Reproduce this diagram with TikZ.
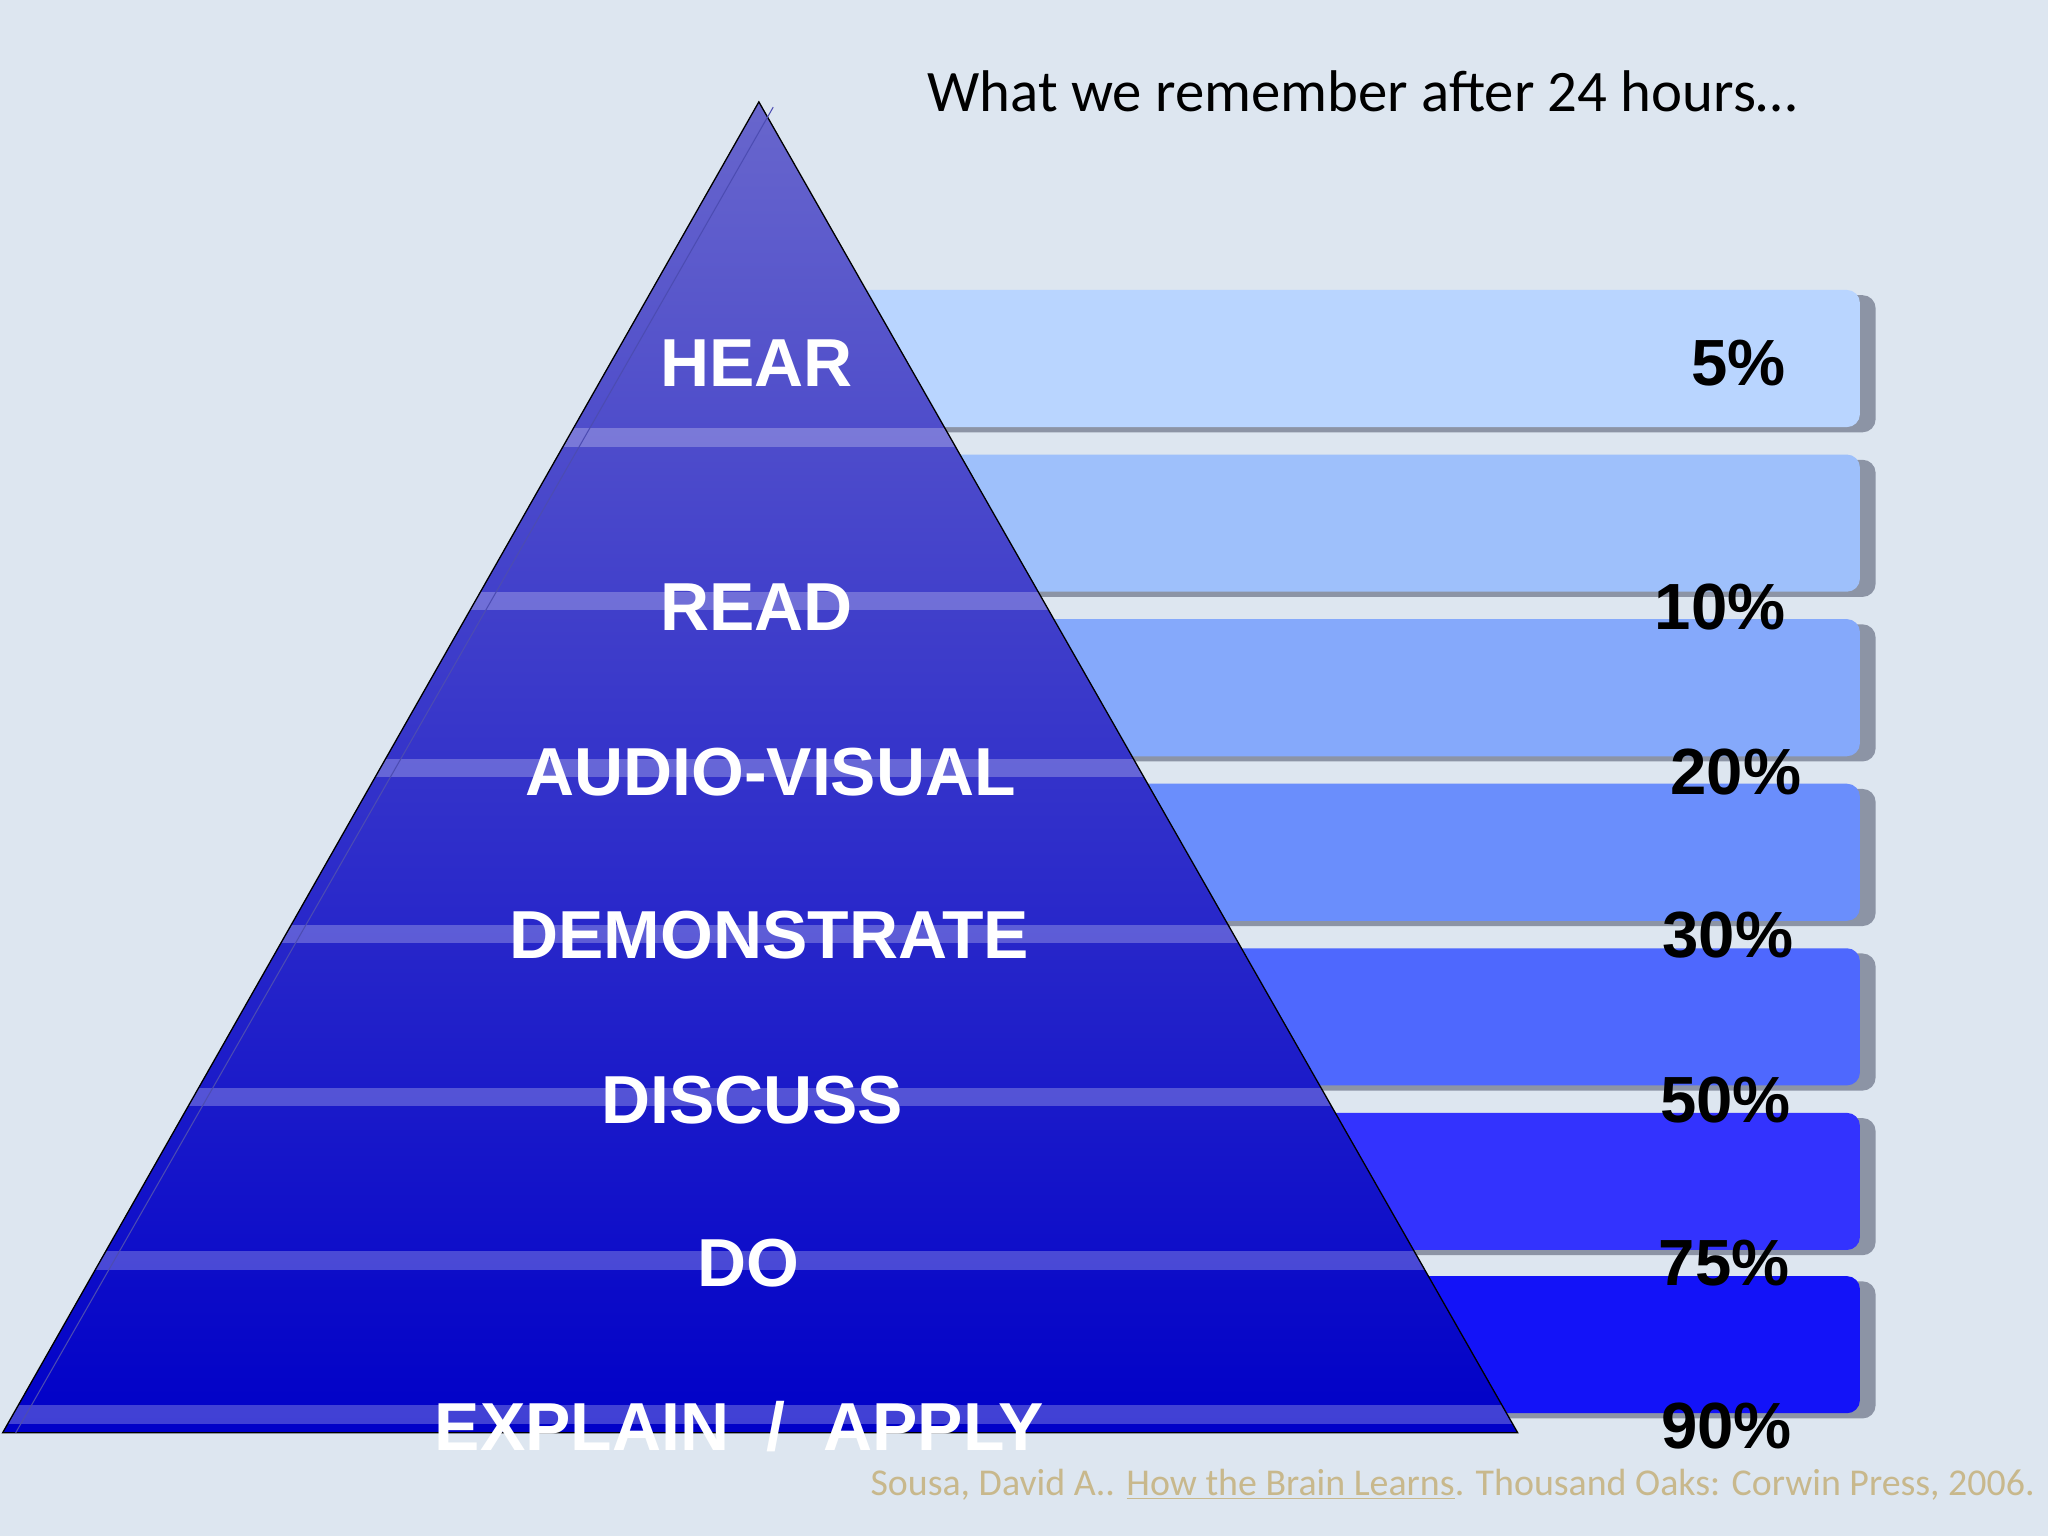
\documentclass[tikz,border=0pt]{standalone}
\usepackage{fontspec}
\setmainfont{Liberation Sans}
\newfontfamily\calib{Carlito}
\begin{document}
\begin{tikzpicture}[x=1pt,y=-1pt,
  lbl/.style={text=white,font=\bfseries\fontsize{52}{60}\selectfont,inner sep=0pt},
  pct/.style={text=black,font=\bfseries\fontsize{50}{60}\selectfont,inner sep=0pt},
  barsh/.style={fill=gray!75!blue!60,rounded corners=10pt},
  band/.style={fill=white,opacity=0.25}]
\fill[blue!4!gray!15!white,fill={rgb,255:red,221;green,230;blue,240}] (0,0) rectangle (1568,1176);
\useasboundingbox (0,0) rectangle (1568,1176);
\node[font=\calib\fontsize{45}{54}\selectfont,anchor=west,inner sep=0pt] (title) at (710,70) {What we remember after 24 hours…};
% bars
\foreach \y/\c [count=\i] in {222/{185,213,255},348/{158,192,251},474/{133,169,251},600/{106,142,252},726/{78,104,254},852/{51,51,254},977/{19,19,248}}{
  \definecolor{bc\i}{RGB}{\c}
  \fill[barsh,fill={rgb,255:red,140;green,148;blue,165}] (612,\y+4) rectangle (1436,\y+109);
  \fill[fill=bc\i,rounded corners=10pt] (600,\y) rectangle (1424,\y+105);
}
% triangle
\coordinate (apex) at (581,78);
\coordinate (bl) at (2,1097);
\coordinate (br) at (1162,1097);
\begin{scope}
\clip (apex) -- (br) -- (bl) -- cycle;
\shade[top color={rgb,255:red,104;green,102;blue,204},bottom color={rgb,255:red,0;green,0;blue,200}] (0,78) rectangle (1170,1100);
\foreach \y in {335,460,588,715,840,965,1083}
  \fill[band] (0,\y-7) rectangle (1170,\y+7);
\end{scope}
\draw[black,line width=1pt] (apex) -- (br) -- (bl) -- cycle;
\coordinate (ga) at (592,82); \coordinate (gb) at (12,1097);
\draw[gray!60!blue,line width=0.8pt] (ga) -- (gb);
% labels
\node[lbl] (l1) at (579,278) {HEAR};
\node[lbl] (l2) at (579,465) {READ};
\node[lbl] (l3) at (590,591) {AUDIO-VISUAL};
\node[lbl] (l4) at (589,716) {DEMONSTRATE};
\node[lbl] (l5) at (576,842) {DISCUSS};
\node[lbl] (l6) at (573,967) {DO};
\node[lbl] (l7) at (566,1092) {EXPLAIN \ / \ APPLY};
\node[pct] (p1) at (1331,278) {5\%};
\node[pct] (p2) at (1317,465) {10\%};
\node[pct] (p3) at (1329,591) {20\%};
\node[pct] (p4) at (1323,716) {30\%};
\node[pct] (p5) at (1321,842) {50\%};
\node[pct] (p6) at (1320,967) {75\%};
\node[pct] (p7) at (1322,1092) {90\%};
\node[font=\calib\fontsize{29}{34}\selectfont,text={rgb,255:red,200;green,184;blue,140},anchor=east,inner sep=0pt] (cite) at (1558,1137) {Sousa, David A.. \underline{How the Brain Learns}. Thousand Oaks: Corwin Press, 2006.};
\end{tikzpicture}
\end{document}
